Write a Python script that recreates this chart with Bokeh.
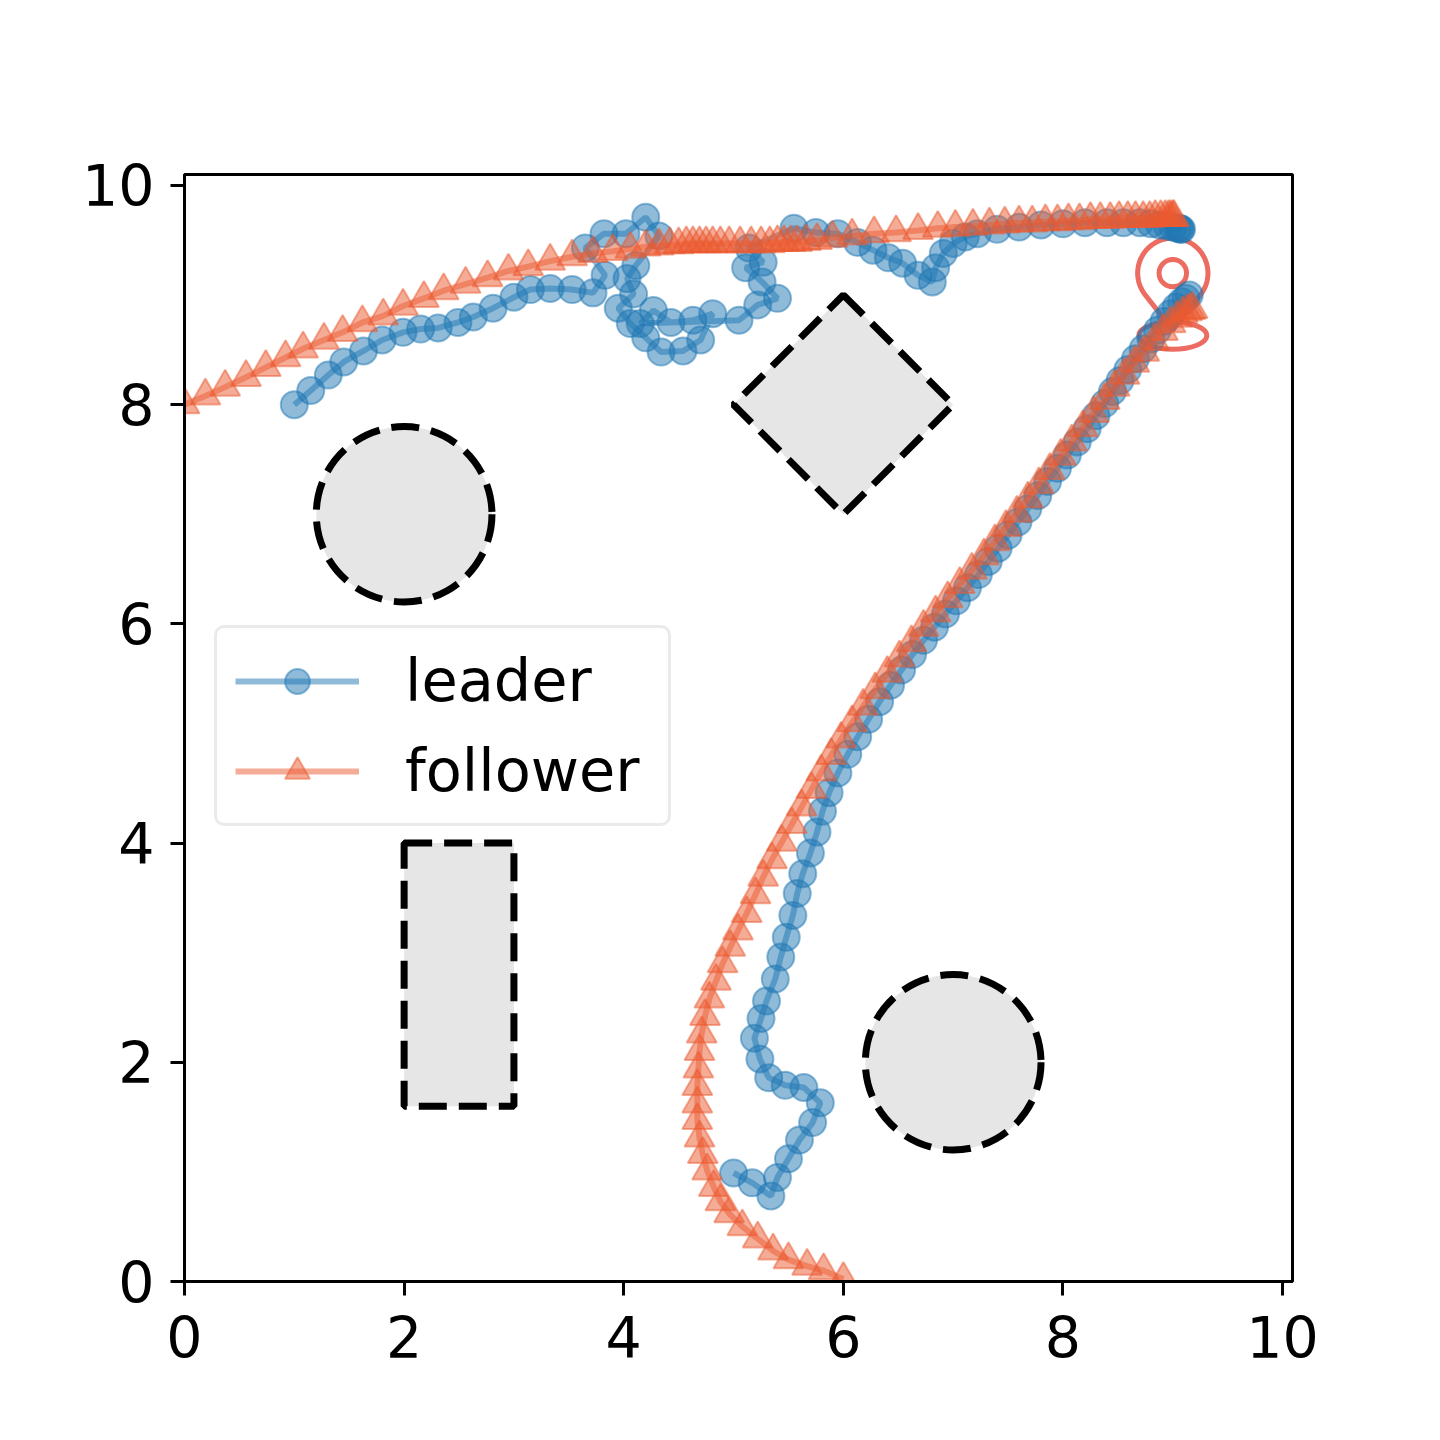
import numpy as np
from bokeh.plotting import figure
from bokeh.models import Range1d, Legend, LegendItem, FixedTicker
from bokeh.embed import file_html
from bokeh.resources import INLINE

# ---------------- data ----------------
leader_a_x = [1.00, 1.15, 1.31, 1.45, 1.63, 1.80, 1.99, 2.15, 2.31, 2.49, 2.63, 2.81, 3.00, 3.15, 3.33, 3.53, 3.72,
              3.83, 3.65, 3.82, 4.02, 4.20, 4.32, 4.11, 4.03, 4.09, 3.95, 4.06, 4.20, 4.34, 4.54, 4.70, 4.81,
              4.63, 4.43, 4.27, 4.15, 5.05, 5.22, 5.40, 5.26, 5.11, 5.27, 5.14, 5.55, 5.75, 5.95, 6.13, 6.27,
              6.41, 6.54, 6.68, 6.81, 6.84, 6.91, 7.00, 7.11, 7.22, 7.40, 7.60, 7.80, 8.00, 8.20, 8.40, 8.55,
              8.70, 8.80, 8.88, 8.95, 9.00, 9.04, 9.06, 9.07, 9.08]
leader_a_y = [8.00, 8.13, 8.27, 8.39, 8.49, 8.59, 8.66, 8.69, 8.70, 8.75, 8.80, 8.88, 8.98, 9.05, 9.06, 9.05, 9.02,
              9.18, 9.43, 9.56, 9.56, 9.71, 9.54, 9.27, 9.15, 9.01, 8.88, 8.74, 8.61, 8.48, 8.49, 8.59, 8.83,
              8.77, 8.75, 8.86, 8.74, 8.77, 8.91, 8.97, 9.12, 9.25, 9.30, 9.43, 9.61, 9.57, 9.56, 9.48, 9.41,
              9.34, 9.29, 9.18, 9.12, 9.25, 9.38, 9.47, 9.53, 9.56, 9.60, 9.62, 9.64, 9.65, 9.66, 9.66, 9.66,
              9.66, 9.65, 9.64, 9.63, 9.62, 9.61, 9.61, 9.60, 9.60]

leader_b_x = [5.00, 5.17, 5.34, 5.40, 5.50, 5.60, 5.72, 5.79, 5.64, 5.47, 5.32, 5.24, 5.19, 5.25, 5.30, 5.38,
              5.43, 5.48, 5.54, 5.58, 5.63, 5.70, 5.76, 5.81, 5.87, 5.95, 6.04, 6.13, 6.23, 6.33, 6.43, 6.53,
              6.63, 6.73, 6.83, 6.93, 7.03, 7.13, 7.23, 7.32, 7.41, 7.50, 7.59, 7.68, 7.77, 7.86, 7.95, 8.04,
              8.13, 8.22, 8.30, 8.38, 8.45, 8.52, 8.59, 8.66, 8.73, 8.80, 8.86, 8.92, 8.98, 9.03, 9.08, 9.12, 9.15]
leader_b_y = [0.99, 0.90, 0.78, 0.95, 1.12, 1.29, 1.45, 1.63, 1.77, 1.79, 1.86, 2.03, 2.22, 2.40, 2.56, 2.76,
              2.96, 3.14, 3.34, 3.54, 3.72, 3.91, 4.10, 4.29, 4.46, 4.64, 4.81, 4.97, 5.13, 5.29, 5.44, 5.58,
              5.72, 5.85, 5.97, 6.09, 6.21, 6.33, 6.45, 6.57, 6.69, 6.81, 6.93, 7.05, 7.17, 7.30, 7.42, 7.54,
              7.66, 7.78, 7.90, 8.01, 8.12, 8.22, 8.32, 8.42, 8.51, 8.60, 8.68, 8.76, 8.83, 8.89, 8.94, 8.97, 9.00]

follower_a_x = [0.00, 0.19, 0.37, 0.56, 0.74, 0.92, 1.08, 1.27, 1.44, 1.62, 1.81, 1.99, 2.18, 2.36, 2.56, 2.76,
                2.95, 3.13, 3.33, 3.53, 3.72, 3.90, 4.06, 4.20, 4.32, 4.42, 4.50, 4.57, 4.63, 4.69, 4.75, 4.81,
                4.88, 4.96, 5.06, 5.16, 5.25, 5.33, 5.40, 5.46, 5.52, 5.58, 5.66, 5.76, 5.90, 6.08, 6.28, 6.48,
                6.68, 6.86, 7.02, 7.18, 7.33, 7.47, 7.60, 7.72, 7.84, 7.95, 8.05, 8.15, 8.25, 8.34, 8.43, 8.51,
                8.59, 8.66, 8.73, 8.79, 8.84, 8.89, 8.93, 8.96, 8.98, 9.00, 9.01]
follower_a_y = [8.00, 8.08, 8.16, 8.25, 8.34, 8.43, 8.51, 8.59, 8.66, 8.75, 8.81, 8.90, 8.97, 9.04, 9.10, 9.16,
                9.22, 9.26, 9.31, 9.35, 9.38, 9.40, 9.42, 9.44, 9.45, 9.46, 9.46, 9.47, 9.47, 9.47, 9.47, 9.47,
                9.47, 9.47, 9.47, 9.47, 9.47, 9.47, 9.48, 9.48, 9.48, 9.48, 9.49, 9.50, 9.52, 9.54, 9.56, 9.57,
                9.59, 9.61, 9.62, 9.63, 9.64, 9.65, 9.66, 9.66, 9.67, 9.67, 9.68, 9.68, 9.69, 9.69, 9.69, 9.70,
                9.70, 9.70, 9.70, 9.70, 9.71, 9.71, 9.71, 9.71, 9.71, 9.71, 9.71]

follower_b_x = [6.00, 5.82, 5.67, 5.50, 5.36, 5.22, 5.08, 4.96, 4.88, 4.82, 4.76, 4.72, 4.69, 4.67, 4.67, 4.67,
                4.68, 4.69, 4.71, 4.74, 4.78, 4.84, 4.90, 4.97, 5.04, 5.12, 5.20, 5.27, 5.35, 5.44, 5.53, 5.62,
                5.71, 5.80, 5.89, 5.98, 6.08, 6.18, 6.29, 6.40, 6.51, 6.62, 6.73, 6.84, 6.95, 7.06, 7.17, 7.28,
                7.38, 7.48, 7.58, 7.68, 7.78, 7.88, 7.98, 8.08, 8.18, 8.28, 8.38, 8.47, 8.56, 8.65, 8.74, 8.83,
                8.91, 8.98, 9.04, 9.09, 9.13, 9.16, 9.18]
follower_b_y = [0.02, 0.10, 0.14, 0.20, 0.28, 0.39, 0.50, 0.62, 0.73, 0.86, 1.01, 1.16, 1.31, 1.47, 1.62, 1.78,
                1.94, 2.10, 2.26, 2.42, 2.58, 2.74, 2.90, 3.05, 3.20, 3.36, 3.53, 3.69, 3.85, 4.01, 4.17, 4.33,
                4.49, 4.65, 4.80, 4.95, 5.10, 5.25, 5.40, 5.55, 5.69, 5.83, 5.97, 6.10, 6.23, 6.36, 6.49, 6.62,
                6.75, 6.88, 7.01, 7.14, 7.27, 7.40, 7.53, 7.66, 7.79, 7.92, 8.04, 8.16, 8.27, 8.38, 8.48, 8.58,
                8.67, 8.74, 8.79, 8.83, 8.85, 8.86, 8.87]

# obstacles
circle_x = [2.0, 7.0]
circle_y = [7.0, 2.0]
circle_r = [0.8, 0.8]
rect_left, rect_right, rect_bottom, rect_top = 2.0, 3.0, 1.6, 4.0
diamond_cx, diamond_cy, diamond_half = 6.0, 8.0, 1.0

# goal marker
goal_x, goal_y = 9.0, 9.2

ticks = [0, 2, 4, 6, 8, 10]

for a, b in [(leader_a_x, leader_a_y), (leader_b_x, leader_b_y),
             (follower_a_x, follower_a_y), (follower_b_x, follower_b_y)]:
    assert len(a) == len(b), (len(a), len(b))

# ---------------- figure ----------------
BLUE = "#1f77b4"
ORANGE = "#EC5A30"
PIN = "#EC6C61"
FONT = "DejaVu Sans"

p = figure(frame_width=1108, frame_height=1107,
           x_range=Range1d(0, 10.09), y_range=Range1d(0, 10.1),
           output_backend="svg", toolbar_location=None,
           min_border_left=184, min_border_right=132,
           min_border_top=174, min_border_bottom=143)
p.background_fill_color = "white"
p.border_fill_color = "white"
p.outline_line_color = "black"
p.outline_line_width = 3
p.xgrid.visible = False
p.ygrid.visible = False

for ax in (p.xaxis[0], p.yaxis[0]):
    ax.ticker = FixedTicker(ticks=ticks)
    ax.major_tick_out = 14
    ax.major_tick_in = 0
    ax.minor_tick_out = 0
    ax.minor_tick_in = 0
    ax.major_tick_line_width = 3
    ax.axis_line_width = 3
    ax.major_label_text_font = FONT
    ax.major_label_text_font_size = "57px"
    ax.major_label_text_color = "black"
p.xaxis[0].major_label_standoff = 20
p.yaxis[0].major_label_standoff = 16

# obstacles
obs_style = dict(fill_color="#e6e6e6", line_color="black", line_width=7, line_dash="28 12")
p.ellipse(x=circle_x, y=circle_y, width=[2 * r for r in circle_r], height=[2 * r for r in circle_r], **obs_style)
p.quad(left=[rect_left], right=[rect_right], bottom=[rect_bottom], top=[rect_top], **obs_style)
dx = [diamond_cx, diamond_cx + diamond_half, diamond_cx, diamond_cx - diamond_half]
dy = [diamond_cy + diamond_half, diamond_cy, diamond_cy - diamond_half, diamond_cy]
p.patch(x=dx, y=dy, **obs_style)

# goal pin icon (built from the goal position)
r_head, d_tip = 0.32, 0.52
beta = np.arccos(r_head / d_tip)
ang = np.linspace(-np.pi / 2 + beta, 3 * np.pi / 2 - beta, 80)
px = [goal_x] + list(goal_x + r_head * np.cos(ang)) + [goal_x]
py = [goal_y - d_tip] + list(goal_y + r_head * np.sin(ang)) + [goal_y - d_tip]
p.line(px, py, line_color=PIN, line_width=5, line_join="round")
p.ellipse(x=[goal_x], y=[goal_y], width=[0.25], height=[0.25], fill_alpha=0,
          line_color=PIN, line_width=5)
p.ellipse(x=[goal_x], y=[goal_y - 0.57], width=[0.62], height=[0.25], fill_alpha=0,
          line_color=PIN, line_width=5)

# trajectories
def traj(xs, ys, color, marker, size):
    ln = p.line(xs, ys, line_color=color, line_alpha=0.5, line_width=6)
    sc = p.scatter(xs, ys, marker=marker, size=size, fill_color=color, fill_alpha=0.5,
                   line_color=color, line_alpha=0.5, line_width=2)
    return ln, sc

la_l, la_s = traj(leader_a_x, leader_a_y, BLUE, "circle", 27)
traj(leader_b_x, leader_b_y, BLUE, "circle", 27)
fa_l, fa_s = traj(follower_a_x, follower_a_y, ORANGE, "triangle", 30)
traj(follower_b_x, follower_b_y, ORANGE, "triangle", 30)

legend = Legend(items=[LegendItem(label="leader", renderers=[la_l, la_s]),
                       LegendItem(label="follower", renderers=[fa_l, fa_s])],
                location=(30, 455))
legend.label_text_font = FONT
legend.label_text_font_size = "59px"
legend.label_text_color = "black"
legend.glyph_width = 124
legend.glyph_height = 62
legend.label_standoff = 46
legend.label_width = 245
legend.spacing = 21
legend.padding = 18
legend.margin = 0
legend.border_line_color = "#d5d5d5"
legend.border_line_width = 3
legend.background_fill_color = "white"
legend.background_fill_alpha = 0.8
try:
    legend.border_radius = 10
except Exception:
    pass
p.add_layout(legend)

open("out.html", "w").write(file_html(p, INLINE))
